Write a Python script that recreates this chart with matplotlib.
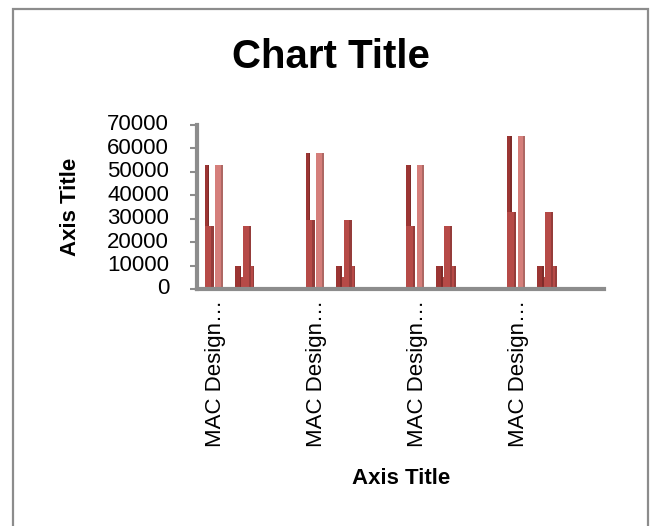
import matplotlib
matplotlib.use("Agg")
import matplotlib.pyplot as plt
from matplotlib.patches import Rectangle

# data
categories = ["MAC Design…", "MAC Design…", "MAC Design…", "MAC Design…"]
tall_a = [53000, 58000, 53000, 65500]   # dark, back
tall_b = [53000, 58000, 53000, 65500]   # light
mid_a = [27000, 29500, 27000, 33000]    # front of first cluster
small_a = [10000, 10000, 10000, 10000]  # dark
dip = [5000, 5000, 5000, 5000]
mid_b = [27000, 29500, 27000, 33000]
small_b = [10000, 10000, 10000, 10000]  # light
yticks = [0, 10000, 20000, 30000, 40000, 50000, 60000, 70000]

W, H = 650, 526
PX = 100.7  # pixels per category

dark = "#9b3533"
medium = "#b64a47"
light = "#d57f7b"
font = "Liberation Sans"

fig = plt.figure(figsize=(W / 100, H / 100), dpi=100)
fig.patches.append(Rectangle((13 / W, -0.05), 635 / W, 1.05 - 9.5 / H,
                             transform=fig.transFigure, fill=False,
                             edgecolor="#8c8c8c", linewidth=1.6))

ax = fig.add_axes([197 / W, (H - 289) / H, 407 / W, 164 / H])


def bar3d(vals, off, width, color):
    # face plus a darker strip on the right for a bit of depth
    xs = [i + off / PX for i in range(len(vals))]
    ax.bar(xs, vals, width=width / PX, align="edge", color=color,
           edgecolor="none", zorder=2)
    xs2 = [x + width * 0.72 / PX for x in xs]
    ax.bar(xs2, vals, width=width * 0.28 / PX, align="edge", color="black",
           alpha=0.18, edgecolor="none", zorder=2)


bar3d(tall_a, -11, 4.5, dark)
bar3d(tall_b, -0.5, 7.5, light)
bar3d(mid_a, -11, 9, medium)
bar3d(dip, 24, 4, medium)
bar3d(small_a, 19, 6.5, dark)
bar3d(small_b, 33, 5.5, medium)
bar3d(mid_b, 27, 8, medium)

ax.set_xlim(-19 / PX, 3 + 86 / PX)
ax.set_ylim(0, 70000)
ax.set_yticks(yticks)
ax.set_yticklabels([str(v) for v in yticks], fontsize=16, family=font)
ax.set_xticks(range(len(categories)))
ax.set_xticklabels(categories, rotation=90, fontsize=16, family=font)
ax.tick_params(axis="x", length=0, pad=8)
ax.tick_params(axis="y", length=5, width=1.5, color="#8c8c8c", pad=15)
for lbl in ax.get_yticklabels():
    lbl.set_verticalalignment("center")

for s in ["top", "right"]:
    ax.spines[s].set_visible(False)
for s in ["left", "bottom"]:
    ax.spines[s].set_color("#8c8c8c")
    ax.spines[s].set_linewidth(3)

fig.text(331 / W, 1 - 57 / H, "Chart Title", ha="center", va="center",
         fontsize=29, fontweight="bold", family=font)
fig.text(71 / W, 1 - 207 / H, "Axis Title", ha="center", va="center",
         rotation=90, fontsize=16, fontweight="bold", family=font)
fig.text(401 / W, 1 - 478 / H, "Axis Title", ha="center", va="center",
         fontsize=16, fontweight="bold", family=font)

fig.savefig("out.png", dpi=100)
